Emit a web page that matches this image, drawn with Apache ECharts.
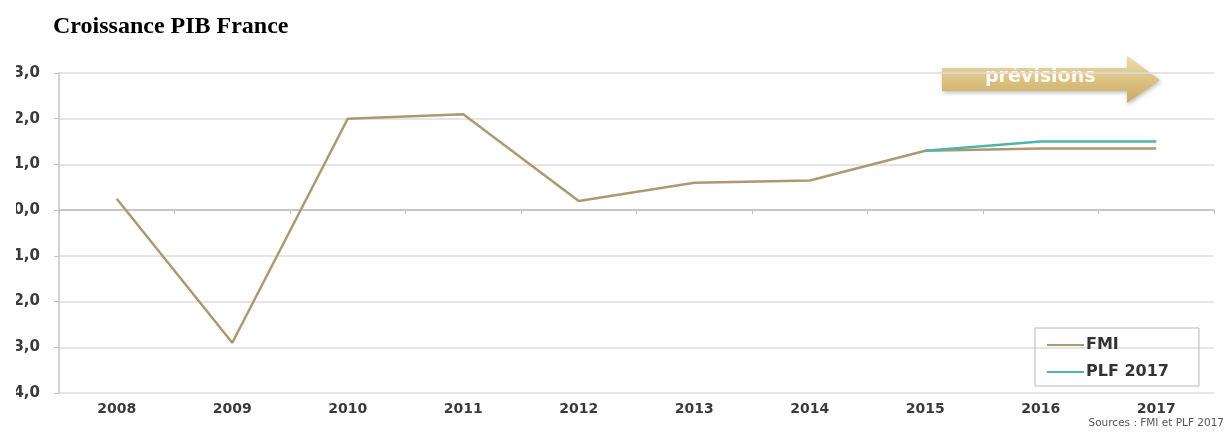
<!DOCTYPE html>
<html>
<head>
<meta charset="utf-8">
<script src="https://cdn.jsdelivr.net/npm/echarts@6/dist/echarts.min.js"></script>
<style>
  html, body { margin: 0; padding: 0; background: #fff; }
  #wrap { position: relative; width: 1224px; height: 432px; overflow: hidden; }
  #chart { position: absolute; left: 16px; top: 0; width: 1208px; height: 432px; }
</style>
</head>
<body>
<div id="wrap"><div id="chart"></div></div>
<script>
// Croissance du PIB français (%), historique et prévisions
const years = ['2008', '2009', '2010', '2011', '2012', '2013', '2014', '2015', '2016', '2017'];
const fmi = [0.25, -2.9, 2.0, 2.1, 0.2, 0.6, 0.65, 1.3, 1.35, 1.35];
const plf = [null, null, null, null, null, null, null, 1.3, 1.5, 1.5];
const yTicks = { min: -4, max: 3, step: 1 };

const chart = echarts.init(document.getElementById('chart'));

const labelFont = {
  fontFamily: 'DejaVu Sans',
  fontWeight: 'bold',
  fontSize: 14,
  color: '#3a3a3a'
};

chart.setOption({
  animation: false,
  backgroundColor: '#fff',
  title: {
    text: 'Croissance PIB France',
    left: 37,
    top: 15,
    padding: 0,
    textStyle: {
      fontFamily: 'Liberation Serif',
      fontWeight: 'bold',
      fontSize: 24,
      color: '#000'
    }
  },
  grid: { left: 43, right: 10, top: 73, bottom: 39, outerBoundsMode: 'none' },
  legend: {
    orient: 'vertical',
    left: 1019,
    top: 328,
    padding: [9, 30, 6, 12],
    itemGap: 11,
    borderColor: '#b8b8b8',
    borderWidth: 1,
    icon: 'rect',
    itemWidth: 37,
    itemHeight: 2,
    textStyle: Object.assign({}, labelFont, { fontSize: 16, color: '#333', padding: [0, 0, 0, -3] }),
    data: ['FMI', 'PLF 2017']
  },
  xAxis: [
    {
      type: 'category',
      data: years,
      boundaryGap: true,
      axisLine: { onZero: true, lineStyle: { color: '#bdbdbd', width: 1.5 } },
      axisTick: { show: true, length: 4, lineStyle: { color: '#bdbdbd' } },
      axisLabel: { show: false },
      splitLine: { show: false }
    },
    {
      type: 'category',
      data: years,
      position: 'bottom',
      boundaryGap: true,
      axisLine: { show: false, onZero: false },
      axisTick: { show: false },
      axisLabel: Object.assign({ margin: 9 }, labelFont),
      splitLine: { show: false }
    }
  ],
  yAxis: {
    type: 'value',
    min: yTicks.min,
    max: yTicks.max,
    interval: yTicks.step,
    axisLine: { show: true, lineStyle: { color: '#c4c4c4', width: 1.5 } },
    axisTick: { show: true, length: 5, lineStyle: { color: '#c4c4c4' } },
    axisLabel: Object.assign({
      margin: 19,
      formatter: v => v.toFixed(1).replace('.', ',')
    }, labelFont, { fontSize: 15 }),
    splitLine: { lineStyle: { color: '#dcdcdc', width: 1.5 } }
  },
  series: [
    {
      name: 'FMI',
      type: 'line',
      data: fmi,
      showSymbol: false,
      symbol: 'none',
      lineStyle: { color: '#ad9870', width: 2.5 },
      itemStyle: { color: '#ad9870' }
    },
    {
      name: 'PLF 2017',
      type: 'line',
      data: plf,
      showSymbol: false,
      symbol: 'none',
      lineStyle: { color: '#4db6ac', width: 2.5 },
      itemStyle: { color: '#4db6ac' }
    }
  ],
  graphic: [
    {
      type: 'polygon',
      shape: {
        points: [[926, 68], [1111, 68], [1111, 56], [1144, 80], [1111, 103], [1111, 91], [926, 91]]
      },
      style: {
        fill: new echarts.graphic.LinearGradient(0, 0, 0, 1, [
          { offset: 0, color: '#ecdcae' },
          { offset: 0.5, color: '#dcc283' },
          { offset: 1, color: '#c8a962' }
        ]),
        shadowBlur: 4,
        shadowOffsetX: 1,
        shadowOffsetY: 2,
        shadowColor: 'rgba(0,0,0,0.25)'
      }
    },
    {
      type: 'text',
      left: 969,
      top: 68,
      style: {
        text: 'prévisions',
        fill: 'rgba(255,255,255,0.92)',
        font: 'bold 19px "DejaVu Sans"'
      }
    },
    {
      type: 'text',
      right: 0,
      top: 418,
      style: {
        text: 'Sources : FMI et PLF 2017',
        fill: '#555',
        font: '10.5px "DejaVu Sans"'
      }
    }
  ]
});
</script>
</body>
</html>
